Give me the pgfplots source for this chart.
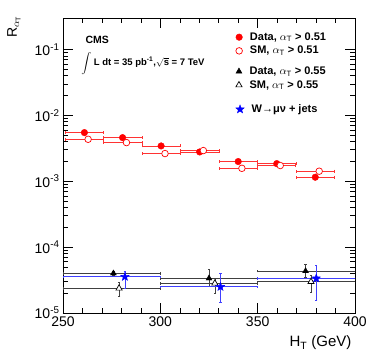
\documentclass[border=0pt]{standalone}
\usepackage{pgfplots}
\pgfplotsset{compat=1.18}
\usepackage{fontspec}
\setmainfont{Liberation Sans}
\usetikzlibrary{calc,plotmarks}

% filled five-pointed star
\pgfdeclareplotmark{fstar}{%
  \pgfpathmoveto{\pgfpointpolar{90}{\pgfplotmarksize}}%
  \pgfpathlineto{\pgfpointpolar{126}{0.42\pgfplotmarksize}}%
  \pgfpathlineto{\pgfpointpolar{162}{\pgfplotmarksize}}%
  \pgfpathlineto{\pgfpointpolar{198}{0.42\pgfplotmarksize}}%
  \pgfpathlineto{\pgfpointpolar{234}{\pgfplotmarksize}}%
  \pgfpathlineto{\pgfpointpolar{270}{0.42\pgfplotmarksize}}%
  \pgfpathlineto{\pgfpointpolar{306}{\pgfplotmarksize}}%
  \pgfpathlineto{\pgfpointpolar{342}{0.42\pgfplotmarksize}}%
  \pgfpathlineto{\pgfpointpolar{18}{\pgfplotmarksize}}%
  \pgfpathlineto{\pgfpointpolar{54}{0.42\pgfplotmarksize}}%
  \pgfpathclose
  \pgfusepathqfillstroke}

\pgfplotsset{
  box/.style={width=292pt,height=295pt,scale only axis},
  leg/.style={legend style={at={(axis description cs:0.581,#1)},anchor=north west,draw=none,fill=none,
      font=\bfseries\fontsize{11}{11}\selectfont,row sep=4.5pt,nodes={inner sep=0pt},
      /tikz/every odd column/.append style={column sep=7.5pt}},
    legend cell align=left,
    legend image code/.code={\draw[mark repeat=2,mark phase=2,##1] plot coordinates {(0pt,0pt)(4pt,0pt)(8pt,0pt)};}},
  overlay axis/.style={box,at={(ax.south west)},anchor=south west,hide axis,xmin=0,xmax=1,ymin=0,ymax=1},
  data51/.style={only marks,mark=*,red,mark size=3.3pt},
  sm51/.style={only marks,mark=*,red,mark size=3.3pt,mark options={draw=red,fill=white,line width=0.7pt}},
  data55/.style={only marks,mark=triangle*,black,mark size=3.4pt},
  sm55/.style={only marks,mark=triangle*,black,mark size=3.6pt,mark options={draw=black,fill=white,line width=0.7pt}},
  wjets/.style={only marks,mark=fstar,blue,mark size=4.4pt,mark options={draw=blue,fill=blue}},
}

\begin{document}
\begin{tikzpicture}
  \begin{axis}[name=ax,box,
      ymode=log,
      xmin=250,xmax=400,ymin=1e-5,ymax=0.3,
      xtick={250,300,350,400},minor x tick num=4,
      ytick={1e-5,1e-4,1e-3,1e-2,1e-1},
      yticklabels={10\textsuperscript{-5},10\textsuperscript{-4},10\textsuperscript{-3},10\textsuperscript{-2},10\textsuperscript{-1}},
      xticklabels={250,300,350,400},
      tick label style={font=\fontsize{14}{14}\selectfont},
      major tick length=10pt,minor tick length=5pt,
      tick style={black,line width=0.6pt},
      axis line style={line width=0.8pt},
      tick pos=both,
      xlabel={H\textsubscript{T} (GeV)},
      xlabel style={font=\fontsize{15}{15}\selectfont,at={(axis description cs:1,-0.115)},anchor=base east},
      leg=0.958,
    ]
    % Data, alpha_T > 0.51
    \addplot[data51,
      error bars/.cd,x dir=both,x explicit,
      error bar style={red!80,line width=0.6pt},
      error mark options={rotate=90,red!80,mark size=1.5pt}]
      coordinates {
        (261.0,5.47e-3) +- (9.9,0)
        (280.6,4.59e-3) +- (9.9,0)
        (300.4,3.43e-3) +- (9.9,0)
        (320.2,2.78e-3) +- (9.9,0)
        (340.0,1.99e-3) +- (9.9,0)
        (359.8,1.85e-3) +- (9.9,0)
        (379.6,1.15e-3) +- (9.9,0)};
    \addlegendentry{Data, $\alpha_{\mathrm{T}}$ > 0.51}
    % SM, alpha_T > 0.51
    \addplot[sm51,
      error bars/.cd,x dir=both,x explicit,
      error bar style={red!80,line width=0.6pt},
      error mark options={rotate=90,red!80,mark size=1.5pt}]
      coordinates {
        (262.9,4.33e-3) += (7.9,0) -= (11.9,0)
        (282.6,3.86e-3) += (7.9,0) -= (11.9,0)
        (302.4,2.63e-3) += (7.9,0) -= (11.9,0)
        (322.1,2.92e-3) += (7.9,0) -= (11.9,0)
        (341.9,1.57e-3) += (7.9,0) -= (11.9,0)
        (361.6,1.73e-3) += (7.9,0) -= (11.9,0)
        (381.6,1.42e-3) += (7.9,0) -= (11.9,0)};
    \addlegendentry{SM, $\alpha_{\mathrm{T}}$ > 0.51}
    % Data, alpha_T > 0.55
    \addplot[data55,forget plot,
      error bars/.cd,x dir=both,x explicit,y dir=both,y explicit,
      error bar style={black!75,line width=0.6pt},
      error mark options={rotate=90,black!75,mark size=1.2pt}]
      coordinates {
        (275.9,4.00e-5) += (24.1,0.30e-5) -= (25.9,0.30e-5)
        (325.0,3.36e-5) += (25.0,1.20e-5) -= (25.0,0.80e-5)
        (374.6,4.33e-5) += (25.4,1.14e-5) -= (24.6,0.80e-5)};
    % SM, alpha_T > 0.55
    \addplot[sm55,forget plot,
      error bars/.cd,x dir=both,x explicit,y dir=both,y explicit,
      error bar style={black!75,line width=0.6pt},
      error mark options={rotate=90,black!75,mark size=1.2pt}]
      coordinates {
        (278.8,2.37e-5) += (21.2,0.60e-5) -= (28.8,0.54e-5)
        (328.0,2.82e-5) += (22.0,0.50e-5) -= (28.0,0.80e-5)
        (377.4,2.98e-5) += (22.6,0.78e-5) -= (27.4,0.88e-5)};
    % W -> mu nu + jets
    \addplot[wjets,forget plot,
      error bars/.cd,x dir=both,x explicit,y dir=both,y explicit,
      error bar style={blue!75,line width=0.6pt},
      error mark options={rotate=90,blue!75,mark size=1.2pt}]
      coordinates {
        (281.8,3.55e-5) += (18.2,0.82e-5) -= (31.8,1.13e-5)
        (330.9,2.50e-5) += (19.1,1.58e-5) -= (30.9,1.05e-5)
        (380.1,3.36e-5) += (19.9,1.98e-5) -= (30.1,1.79e-5)};

    \node[anchor=base west,font=\bfseries\fontsize{10.5}{10.5}\selectfont]
      at (axis description cs:0.065,0.915) {CMS};
    \node[anchor=west,font=\bfseries\fontsize{9.5}{9.5}\selectfont,inner sep=0pt]
      at (axis description cs:0.062,0.847)
      {$\displaystyle\int$ L dt = 35 pb\textsuperscript{-1},$\sqrt{\mathbf{s}}$ = 7 TeV};
  \end{axis}
  % second legend group
  \begin{axis}[overlay axis,leg=0.842]
    \addlegendimage{data55}
    \addlegendentry{Data, $\alpha_{\mathrm{T}}$ > 0.55}
    \addlegendimage{sm55}
    \addlegendentry{SM, $\alpha_{\mathrm{T}}$ > 0.55}
  \end{axis}
  % third legend group
  \begin{axis}[overlay axis,leg=0.714]
    \addlegendimage{wjets}
    \addlegendentry{W→μν + jets}
  \end{axis}
  \node[rotate=90,anchor=base east,font=\fontsize{14}{14}\selectfont,inner sep=0pt]
    at ($(ax.north west)+(-46pt,2pt)$) {R$_{\alpha_{\mathrm{T}}}$};
  \pgfresetboundingbox
  \path[use as bounding box] ($(ax.south west)+(-63pt,-46pt)$) rectangle ($(ax.north east)+(19pt,18pt)$);
\end{tikzpicture}
\end{document}
